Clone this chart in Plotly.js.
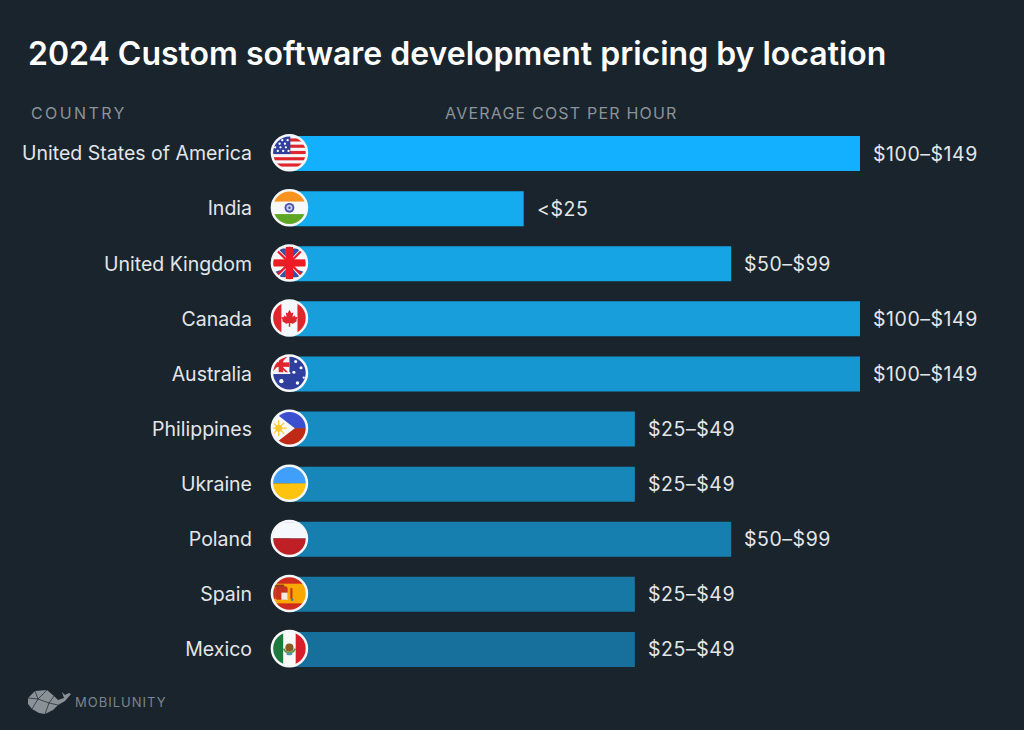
<!DOCTYPE html>
<html><head><meta charset="utf-8">
<script src="https://cdn.plot.ly/plotly-3.0.1.min.js"></script>
<style>html,body{margin:0;padding:0;background:#1a242d;overflow:hidden}</style>
</head><body><div id="chart" style="width:1024px;height:730px"></div>
<script>
const countries=["United States of America","India","United Kingdom","Canada","Australia","Philippines","Ukraine","Poland","Spain","Mexico"];
const barLengths=[100,41,77.4,100,100,60.5,60.5,77.4,60.5,60.5];
const priceLabels=["$100–$149","<$25","$50–$99","$100–$149","$100–$149","$25–$49","$25–$49","$50–$99","$25–$49","$25–$49"];
const barColors=["#13b0ff","#15abef","#16a4e4","#179edb","#1797d1","#178cc2","#1786b9","#177fb0","#1778a6","#17709c"];
const flagArt=[
 `<rect width="40" height="40" fill="#f5f7fb"/><g fill="#e0262c"><rect y="4" width="40" height="3.5"/><rect y="11" width="40" height="3.5"/><rect y="18" width="40" height="3.5"/><rect y="25" width="40" height="3.5"/><rect y="32" width="40" height="3.5"/></g><rect width="21" height="21.5" fill="#2f3f9e"/><g fill="#fff"><circle cx="6" cy="6" r="1.3"/><circle cx="12" cy="6" r="1.3"/><circle cx="18" cy="6" r="1.3"/><circle cx="9" cy="10" r="1.3"/><circle cx="15" cy="10" r="1.3"/><circle cx="4" cy="14" r="1.3"/><circle cx="10" cy="14" r="1.3"/><circle cx="16" cy="14" r="1.3"/><circle cx="7" cy="18" r="1.3"/><circle cx="13" cy="18" r="1.3"/><circle cx="19" cy="18" r="1.3"/></g>`,
 `<rect width="40" height="40" fill="#f7f8fa"/><rect width="40" height="13" fill="#f7931e"/><rect y="27" width="40" height="13" fill="#5fa624"/><circle cx="20" cy="20" r="5.5" fill="#4a55a8"/><circle cx="20" cy="20" r="3.4" fill="#c8cdea"/><circle cx="20" cy="20" r="1.4" fill="#4a55a8"/>`,
 `<rect width="40" height="40" fill="#f5f7fb"/><g fill="#3a4ea3"><path d="M7 4 16 4 16 13Z"/><path d="M33 4 24 4 24 13Z"/><path d="M4 30 13 27 4 36Z"/><path d="M16 36 16 27 8 36Z"/><path d="M24 36 24 27 32 36Z"/><path d="M36 30 27 27 36 36Z"/></g><g stroke="#ed1c24" stroke-width="2.5"><path d="M3 3 17 17M37 3 23 17M3 37 17 23M37 37 23 23"/></g><rect x="16" width="8" height="40" fill="#ed1c24"/><rect y="16" width="40" height="8" fill="#ed1c24"/>`,
 `<rect width="40" height="40" fill="#f5f8fd"/><rect width="11" height="40" fill="#e0262c"/><rect x="29" width="11" height="40" fill="#e0262c"/><path d="M20 9 22.5 13.5 25 12.5 24 18.5 27 16.5 28 19 31 18.5 29 23 30 24 24.5 27.5 21 26.5V31.5H19V26.5L15.5 27.5 10 24 11 23 9 18.5 12 19 13 16.5 16 18.5 15 12.5 17.5 13.5Z" fill="#e0262c" transform="translate(3.3 3.2) scale(.84)"/>`,
 `<rect width="40" height="40" fill="#2f3f9e"/><rect width="20" height="20" fill="#f3f4f8"/><path d="M0 2 18 20M0 18 18 0" stroke="#e0262c" stroke-width="2"/><rect x="8" width="5" height="20" fill="#e0262c"/><rect y="8" width="20" height="5" fill="#e0262c"/><rect x="0" y="19" width="21" height="2" fill="#f3f4f8"/><g fill="#fff"><circle cx="27" cy="7" r="1.7"/><circle cx="33" cy="14" r="1.7"/><circle cx="25" cy="19" r="1.7"/><circle cx="29" cy="31" r="1.9"/><circle cx="36" cy="25" r="1.3"/><circle cx="11" cy="29" r="2.4"/></g>`,
 `<rect width="40" height="20" fill="#3c50cf"/><rect y="20" width="40" height="20" fill="#bf2a16"/><path d="M0 0 26 20 0 40Z" fill="#f7f8fa"/><circle cx="8" cy="20" r="4" fill="#fdc92f"/><path d="M8 11V29M-1 20H17M2 14 14 26M2 26 14 14" stroke="#fdc92f" stroke-width="1.4"/>`,
 `<rect width="40" height="20" fill="#3f9ffb"/><rect y="20" width="40" height="20" fill="#fdc30f"/>`,
 `<rect width="40" height="20" fill="#f5f8fd"/><rect y="20" width="40" height="20" fill="#bf2025"/><rect x="14" y="1" width="12" height="1" fill="#9a93d6"/>`,
 `<rect width="40" height="40" fill="#f9a800"/><rect width="40" height="9" fill="#cf2b1e"/><rect y="31" width="40" height="9" fill="#cf2b1e"/><rect x="4" y="12" width="14" height="15" rx="3" fill="#c9321f"/><rect x="11" y="19" width="7" height="8" fill="#f2ece0"/><rect x="3" y="10" width="11" height="3" fill="#9c3b1a"/><rect x="21" y="14" width="2.4" height="12" fill="#c9321f"/><rect x="1.5" y="14" width="2.4" height="12" fill="#c9321f"/><circle cx="23" cy="27" r="1.4" fill="#3c7fb4"/>`,
 `<rect width="40" height="40" fill="#f9f9f7"/><rect width="13" height="40" fill="#1c7a3e"/><rect x="27" width="13" height="40" fill="#d81e2a"/><circle cx="20" cy="19" r="4.6" fill="#8a5a22"/><path d="M13.5 20A7 7 0 0 0 26.5 20" fill="none" stroke="#5c9a4a" stroke-width="2"/><ellipse cx="20" cy="26" rx="3.5" ry="1.5" fill="#4f9aa8"/>`
];
const whale=`<svg xmlns="http://www.w3.org/2000/svg" viewBox="0 0 44 26"><path d="M1 9 8 2 20 1 27 7 31 11 37 9 35 3 38 6 42 4 44 5 38 12 31 16 26 21 18 25 12 24 5 20 1 15Z" fill="#8b9297"/><path d="M8 2 11 10 1 9M11 10 20 1M11 10 5 20M11 10 22 14 27 7M22 14 18 25M22 14 31 16" fill="none" stroke="#1a242d" stroke-width=".7"/></svg>`;

function flagUri(art,i){
  const svg=`<svg xmlns="http://www.w3.org/2000/svg" viewBox="-2 -2 44 44"><defs><clipPath id="c${i}"><circle cx="20" cy="20" r="20"/></clipPath></defs><g clip-path="url(#c${i})">${art}</g><circle cx="20" cy="20" r="19.6" fill="none" stroke="#f4f6f8" stroke-width="2.8"/></svg>`;
  return "data:image/svg+xml;base64,"+btoa(svg);
}
const FONT="Inter, 'Noto Sans', sans-serif";
const W=1024,H=730,L=262,R=0,T=126,B=53;
const px=x=>(x-L)/(W-L-R), py=y=>1-(y-T)/(H-T-B);
const images=countries.map((c,i)=>({source:flagUri(flagArt[i],i),xref:"x",yref:"y",x:-0.1,y:i-0.015,sizex:6.9,sizey:0.72,xanchor:"center",yanchor:"middle",sizing:"contain",layer:"above"}));
images.push({source:"data:image/svg+xml;base64,"+btoa(whale),xref:"paper",yref:"paper",x:px(27),y:py(689),sizex:44/(W-L-R),sizey:26/(H-T-B),xanchor:"left",yanchor:"top",sizing:"contain",layer:"above"});

const valueNotes=countries.map((c,i)=>({xref:"x",yref:"y",x:barLengths[i],y:c,text:`<span style="letter-spacing:.55px">${priceLabels[i].replace("<","&lt;")}</span>`,showarrow:false,xanchor:"left",yanchor:"middle",xshift:11,font:{family:FONT,size:19.5,color:"#e3e6e8"}}));
function header(txt,x,y,size,color,sp){return {xref:"paper",yref:"paper",x:px(x),y:py(y),text:`<span style="letter-spacing:${sp}px">${txt}</span>`,showarrow:false,xanchor:"left",yanchor:"middle",font:{family:FONT,size:size,color:color}};}

Plotly.newPlot("chart",[{type:"bar",orientation:"h",y:countries,x:barLengths,marker:{color:barColors,line:{width:0}},hoverinfo:"skip"}],{
  width:W,height:H,paper_bgcolor:"#1a242d",plot_bgcolor:"#1a242d",showlegend:false,
  margin:{l:L,r:R,t:T,b:B,pad:0},bargap:0.365,
  title:{text:"2024 Custom software development pricing by location",x:28/W,xanchor:"left",y:1-54/H,yanchor:"middle",font:{family:FONT,size:32,weight:600,color:"#ffffff"}},
  xaxis:{range:[-4.912,128.77],showgrid:false,zeroline:false,showticklabels:false,showline:false,ticks:"",fixedrange:true},
  yaxis:{type:"category",categoryorder:"array",categoryarray:countries,autorange:"reversed",showgrid:false,zeroline:false,showline:false,ticks:"",ticklabelstandoff:9,ticklabelshift:1.5,tickfont:{family:FONT,size:19.5,color:"#e3e6e8"},fixedrange:true},
  images:images,
  annotations:valueNotes.concat([
    header("COUNTRY",29,113,16,"#8b9399",2.4),
    header("AVERAGE COST PER HOUR",443,113,16,"#8b9399",1.2),
    header("MOBILUNITY",73,702,13,"#7b858d",1)
  ])
},{displayModeBar:false,staticPlot:true});
</script></body></html>
